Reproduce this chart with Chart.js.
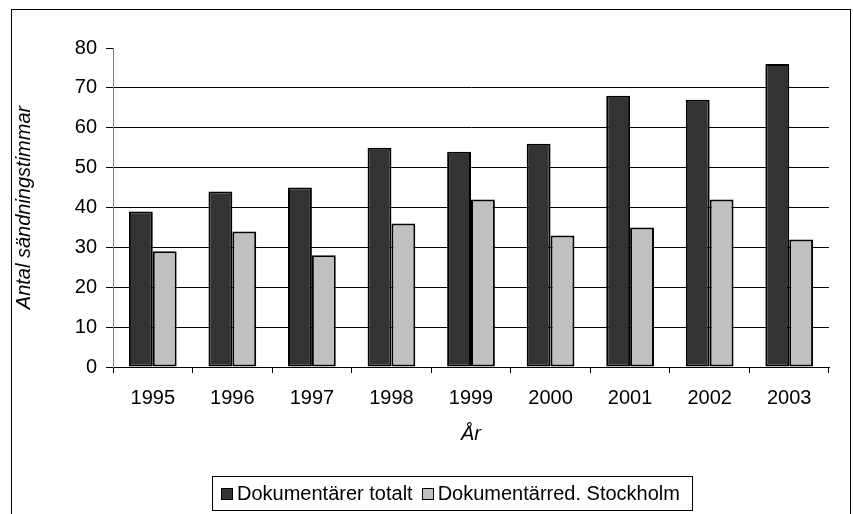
<!DOCTYPE html>
<html>
<head>
<meta charset="utf-8">
<script src="https://cdn.jsdelivr.net/npm/chart.js@4/dist/chart.umd.min.js"></script>
<style>
  body { margin: 0; background: #fff; font-family: "Liberation Sans", Arial, sans-serif; }
  #wrap { position: relative; width: 853px; height: 514px; overflow: hidden; }
  #frame { position: absolute; left: 11px; top: 9px; width: 838px; height: 520px; border: 1px solid #000; }
  #chart { position: absolute; left: 0; top: 0; }
  #legend { position: absolute; left: 212px; top: 476px; width: 479px; height: 33px; border: 1px solid #000;
            display: flex; align-items: center; font-size: 20px; color: #000; }
  .item { display: flex; align-items: center; margin-left: 8px; }
  .item + .item { margin-left: 9px; }
  .box { width: 10px; height: 10px; border: 1.5px solid #000; margin-right: 4px; }
</style>
</head>
<body>
<div id="wrap">
  <div id="frame"></div>
  <canvas id="chart" width="853" height="514"></canvas>
  <div id="legend"></div>
</div>
<script>
const years = ['1995', '1996', '1997', '1998', '1999', '2000', '2001', '2002', '2003'];
const totalt = [39, 44, 45, 55, 54, 56, 68, 67, 76];
const stockholm = [29, 34, 28, 36, 42, 33, 35, 42, 32];
const seriesNames = ['Dokumentärer totalt', 'Dokumentärred. Stockholm'];
const seriesColors = ['#333333', '#c0c0c0'];

const fontFam = '"Liberation Sans", Arial, sans-serif';

const ctx = document.getElementById('chart').getContext('2d');
const chart = new Chart(ctx, {
    type: 'bar',
    data: {
        labels: years,
        datasets: [{
            label: seriesNames[0],
            data: totalt,
            backgroundColor: seriesColors[0],
            borderColor: '#000',
            borderWidth: 2,
            borderSkipped: false,
            categoryPercentage: 0.6,
            barPercentage: 1
        }, {
            label: seriesNames[1],
            data: stockholm,
            backgroundColor: seriesColors[1],
            borderColor: '#000',
            borderWidth: 2,
            borderSkipped: false,
            categoryPercentage: 0.6,
            barPercentage: 1
        }]
    },
    options: {
        responsive: false,
        animation: false,
        layout: { padding: { left: 12, top: 48, right: 24, bottom: 67 } },
        plugins: {
            legend: { display: false },
            tooltip: { enabled: false }
        },
        scales: {
            x: {
                grid: { offset: true, drawOnChartArea: false, color: '#000', tickLength: 6 },
                border: { color: '#000', width: 1 },
                ticks: { color: '#000', padding: 13, font: { family: fontFam, size: 20 }, maxRotation: 0 },
                title: { display: true, text: 'År', color: '#000', padding: { top: 0, bottom: 1 },
                         font: { family: fontFam, size: 20, style: 'italic' } },
                afterFit: function(scale) { scale.height = 80; }
            },
            y: {
                min: 0,
                max: 80,
                grid: {
                    color: function(c) { return c.tick && c.tick.value === 80 ? 'rgba(0,0,0,0)' : '#000'; },
                    tickColor: '#000',
                    tickLength: 7
                },
                border: { color: '#808080', width: 1 },
                ticks: { stepSize: 10, color: '#000', padding: 9, font: { family: fontFam, size: 20 } },
                title: { display: true, text: 'Antal sändningstimmar', color: '#000', padding: { top: 0, bottom: 0 },
                         font: { family: fontFam, size: 20, style: 'italic' } },
                afterFit: function(scale) { scale.width = 101; }
            }
        }
    }
});

// legend built from the datasets
const legend = document.getElementById('legend');
chart.data.datasets.forEach(function(ds) {
    const item = document.createElement('div');
    item.className = 'item';
    const box = document.createElement('span');
    box.className = 'box';
    box.style.background = ds.backgroundColor;
    const txt = document.createElement('span');
    txt.textContent = ds.label;
    item.appendChild(box);
    item.appendChild(txt);
    legend.appendChild(item);
});
</script>
</body>
</html>
